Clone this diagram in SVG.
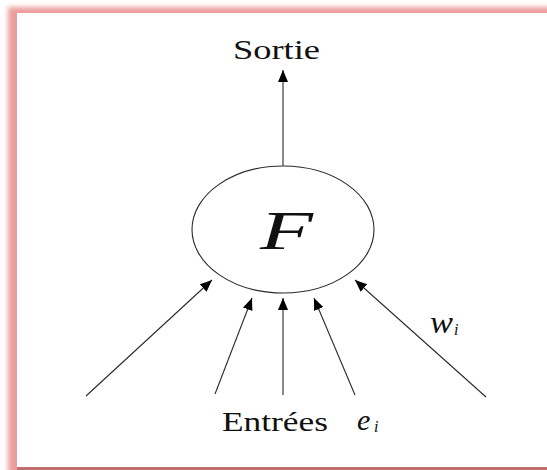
<svg xmlns="http://www.w3.org/2000/svg" width="547" height="470" viewBox="0 0 547 470">
<style>
.lbl{font-family:"Liberation Serif","DejaVu Serif","Times New Roman",serif;fill:#111}
.it{font-style:italic}
.conn{stroke:#2a2a2a;stroke-width:1.1;fill:none}
</style>
<defs>
<filter id="soft" x="-5%" y="-5%" width="110%" height="110%">
<feGaussianBlur stdDeviation="2.6"/>
</filter>
<marker id="ah" markerUnits="userSpaceOnUse" markerWidth="13" markerHeight="11" refX="12" refY="5" orient="auto">
<path d="M0,0 L12,5 L0,10 Z" fill="#000"/>
</marker>
</defs>
<rect width="547" height="470" fill="#fff"/>
<g id="frame">
<rect x="8" y="7" width="580" height="500" fill="#ec9d9d" filter="url(#soft)"/>
<rect x="17" y="13" width="540" height="454" fill="#fff"/>
<rect x="17" y="467" width="540" height="3" fill="#bf6e6e"/>
</g>
<g id="connectors">
<line class="conn" x1="283" y1="166" x2="283" y2="70" marker-end="url(#ah)"/>
<line class="conn" x1="86" y1="396" x2="212" y2="280" marker-end="url(#ah)"/>
<line class="conn" x1="215" y1="394" x2="252" y2="298" marker-end="url(#ah)"/>
<line class="conn" x1="283" y1="395" x2="283" y2="298" marker-end="url(#ah)"/>
<line class="conn" x1="355" y1="395" x2="314" y2="298" marker-end="url(#ah)"/>
<line class="conn" x1="486" y1="397" x2="355" y2="280" marker-end="url(#ah)"/>
</g>
<g id="neuron">
<ellipse cx="283" cy="229.5" rx="91" ry="63.5" fill="#fff" stroke="#2a2a2a" stroke-width="1.1"/>
<text class="lbl it" x="260" y="249" font-size="54" textLength="53" lengthAdjust="spacingAndGlyphs">F</text>
</g>
<g id="sortie">
<text class="lbl" x="233" y="59" font-size="28" textLength="87" lengthAdjust="spacingAndGlyphs">Sortie</text>
</g>
<g id="entrees">
<text class="lbl" x="222" y="431" font-size="27" textLength="106" lengthAdjust="spacingAndGlyphs">Entrées</text>
<text class="lbl it" x="357" y="430" font-size="30" font-weight="normal">e</text>
<text class="lbl it" x="374" y="432" font-size="16">i</text>
</g>
<g id="poids">
<text class="lbl it" x="430" y="333" font-size="32" textLength="23" lengthAdjust="spacingAndGlyphs">w</text>
<text class="lbl it" x="454" y="335" font-size="16">i</text>
</g>
</svg>
